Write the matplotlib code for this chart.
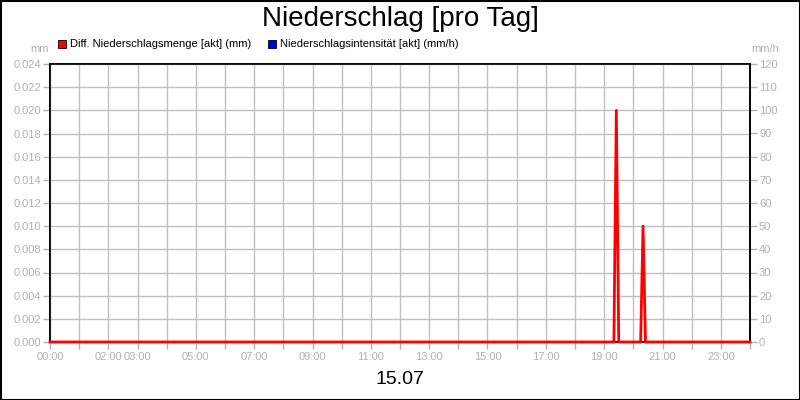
import matplotlib
matplotlib.use("Agg")
import matplotlib.pyplot as plt
from matplotlib.patches import Rectangle

plt.rcParams['font.family'] = ['Liberation Sans', 'DejaVu Sans']

# Data (hours of day 15.07)
menge_hours = [0.0, 19.333, 19.417, 19.5, 20.25, 20.333, 20.417, 24.0]
menge_mm = [0.0, 0.0, 0.020, 0.0, 0.0, 0.010, 0.0, 0.0]
intens_hours = [0.0, 24.0]
intens_mmh = [0.0, 0.0]

hour_ticks = list(range(0, 25))
hour_labels = ["00:00", "", "02:00", "03:00", "", "05:00", "", "07:00", "", "09:00", "",
               "11:00", "", "13:00", "", "15:00", "", "17:00", "", "19:00", "", "21:00",
               "", "23:00", ""]
left_ticks = [0.000, 0.002, 0.004, 0.006, 0.008, 0.010, 0.012, 0.014, 0.016, 0.018, 0.020, 0.022, 0.024]
right_ticks = [0, 10, 20, 30, 40, 50, 60, 70, 80, 90, 100, 110, 120]

GRAY = "#b0b0b0"
GRID = "#c0c0c0"

fig = plt.figure(figsize=(8, 4), dpi=100)
ax = fig.add_axes([50/800, 58/400, 700/800, 278/400])
ax2 = ax.twinx()

ax.set_xlim(0, 24)
ax.set_ylim(0, 0.024)
ax2.set_ylim(0, 120)

ax.set_xticks(hour_ticks)
ax.set_xticklabels(hour_labels)
ax.set_yticks(left_ticks)
ax.set_yticklabels([f"{v:.3f}" for v in left_ticks])
ax2.set_yticks(right_ticks)
ax2.set_yticklabels([str(v) for v in right_ticks])

ax.grid(True, color=GRID, lw=1)
ax.set_axisbelow(True)
for a in (ax, ax2):
    a.tick_params(axis='both', colors=GRAY, labelcolor=GRAY, labelsize=8, length=5, width=1,
                  direction='out', pad=1.5)
    for s in a.spines.values():
        s.set_color('black')
        s.set_linewidth(1.2)
ax.tick_params(axis='x', pad=2)

ax.set_zorder(ax2.get_zorder() + 1)
ax.patch.set_visible(False)
ax2.plot(intens_hours, intens_mmh, color='#0000ff', lw=1.5, clip_on=False)
ax.plot(menge_hours, menge_mm, color='#ff0000', lw=2.0, clip_on=False, zorder=3)

fig.text(0.5, 1 - 19/400, "Niederschlag [pro Tag]", ha='center', va='center', fontsize=20, color='black')
fig.text(0.5, 1 - 380/400, "15.07", ha='center', va='center', fontsize=14, color='black')

fig.text(40/800, 1 - 49/400, "mm", ha='center', va='center', fontsize=8, color=GRAY)
fig.text(765/800, 1 - 49/400, "mm/h", ha='center', va='center', fontsize=8, color=GRAY)

# legend
for (x0, col, lab) in [(58, '#ff0000', "Diff. Niederschlagsmenge [akt] (mm)"),
                       (268, '#0000ff', "Niederschlagsintensität [akt] (mm/h)")]:
    fig.patches.append(Rectangle((x0/800, 1 - 48/400), 8/800, 8/400, transform=fig.transFigure,
                                 facecolor=col, edgecolor='black', lw=0.6))
    fig.text((x0 + 12)/800, 1 - 44/400, lab, ha='left', va='center', fontsize=8, color='black')

fig.patches.append(Rectangle((0.5/800, 0.5/400), 799/800, 399/400, transform=fig.transFigure,
                             facecolor='none', edgecolor='black', lw=1.5))

fig.savefig("out.png", dpi=100, facecolor='white')
